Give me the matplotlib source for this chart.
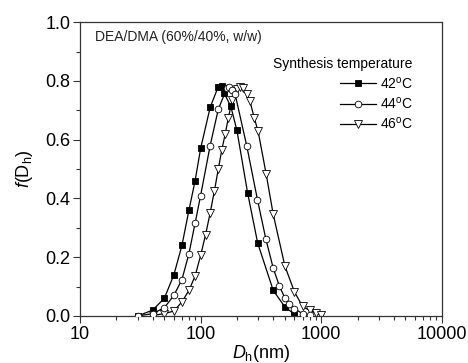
import matplotlib
matplotlib.use("Agg")
import matplotlib.pyplot as plt
from matplotlib.ticker import MultipleLocator, LogLocator, NullFormatter

plt.rcParams['font.family'] = ['Liberation Sans', 'DejaVu Sans']
plt.rcParams['mathtext.fontset'] = 'custom'
plt.rcParams['mathtext.rm'] = 'Liberation Sans'
plt.rcParams['mathtext.it'] = 'Liberation Sans:italic'

# 42 C
d42 = [30, 40, 50, 60, 70, 80, 90, 100, 120, 140, 150, 157, 178, 200, 245, 297, 400, 500, 600]
f42 = [0.0, 0.02, 0.06, 0.14, 0.24, 0.36, 0.46, 0.57, 0.71, 0.78, 0.782, 0.758, 0.713, 0.632,
       0.42, 0.249, 0.087, 0.031, 0.006]

# 44 C
d44 = [30, 40, 50, 60, 70, 80, 90, 100, 120, 140, 165, 173, 183, 193, 241, 296, 347, 400,
       450, 500, 544, 600, 700, 800]
f44 = [0.0, 0.008, 0.028, 0.07, 0.124, 0.212, 0.316, 0.41, 0.58, 0.703, 0.775, 0.78, 0.768,
       0.756, 0.58, 0.396, 0.263, 0.163, 0.102, 0.061, 0.04, 0.025, 0.008, 0.002]

# 46 C
d46 = [40, 50, 60, 70, 80, 90, 100, 110, 120, 130, 140, 150, 160, 170, 183, 200, 212,
       226, 241, 257, 278, 300, 350, 400, 500, 600, 700, 800, 900, 1000]
f46 = [0.002, 0.008, 0.017, 0.048, 0.087, 0.136, 0.206, 0.277, 0.351, 0.425, 0.499,
       0.566, 0.62, 0.675, 0.736, 0.773, 0.779, 0.775, 0.757, 0.73, 0.675, 0.628, 0.482,
       0.346, 0.170, 0.082, 0.033, 0.019, 0.010, 0.002]

xticks = [10, 100, 1000, 10000]
xticklabels = ['10', '100', '1000', '10000']

fig = plt.figure(figsize=(4.68, 3.63), dpi=100)
ax = fig.add_axes([0.171, 0.1295, 0.773, 0.8095])

ax.plot(d42, f42, '-', color='black', lw=0.9, marker='s', ms=4.6, mfc='black', mec='black',
        mew=0.6, label='42$^\\mathregular{o}$C', zorder=2)
ax.plot(d46, f46, '-', color='black', lw=0.9, marker='v', ms=5.5, mfc='white', mec='black',
        mew=0.6, label='46$^\\mathregular{o}$C', zorder=2)
ax.plot(d44, f44, '-', color='black', lw=0.9, marker='o', ms=4.8, mfc='white', mec='black',
        mew=0.6, label='44$^\\mathregular{o}$C', zorder=3)

ax.set_xscale('log')
ax.set_xlim(10, 10000)
ax.set_ylim(0, 1.0)
ax.set_xticks(xticks)
ax.set_xticklabels(xticklabels)
ax.xaxis.set_minor_locator(LogLocator(base=10, subs=range(2, 10)))
ax.xaxis.set_minor_formatter(NullFormatter())
ax.yaxis.set_major_locator(MultipleLocator(0.2))
ax.yaxis.set_minor_locator(MultipleLocator(0.1))
ax.yaxis.set_major_formatter(plt.FuncFormatter(lambda v, p: f'{v:.1f}'))

for s in ax.spines.values():
    s.set_color('#333333')
    s.set_linewidth(0.9)
ax.tick_params(which='both', direction='out', top=False, right=False, color='#333333',
               labelsize=13, width=0.8)
ax.tick_params(which='major', length=5, pad=2)
ax.tick_params(which='minor', length=3)

ax.set_xlabel(r'$\mathit{D}_\mathregular{h}$(nm)', fontsize=13, labelpad=0)
ax.set_ylabel(r'$\mathit{f}$(D$_\mathregular{h}$)', fontsize=13, labelpad=7)

ax.text(0.041, 0.95, 'DEA/DMA (60%/40%, w/w)', transform=ax.transAxes, fontsize=10,
        va='center', ha='left', color='#222222')

handles, labels = ax.get_legend_handles_labels()
order = [0, 2, 1]
leg = ax.legend([handles[i] for i in order], [labels[i] for i in order],
                loc='upper right', bbox_to_anchor=(0.935, 0.9), frameon=False, fontsize=10,
                title='Synthesis temperature', title_fontsize=10, handlelength=2.6,
                handletextpad=0.3, labelspacing=0.3, alignment='right', borderaxespad=0)

fig.savefig('out.png', dpi=100)
